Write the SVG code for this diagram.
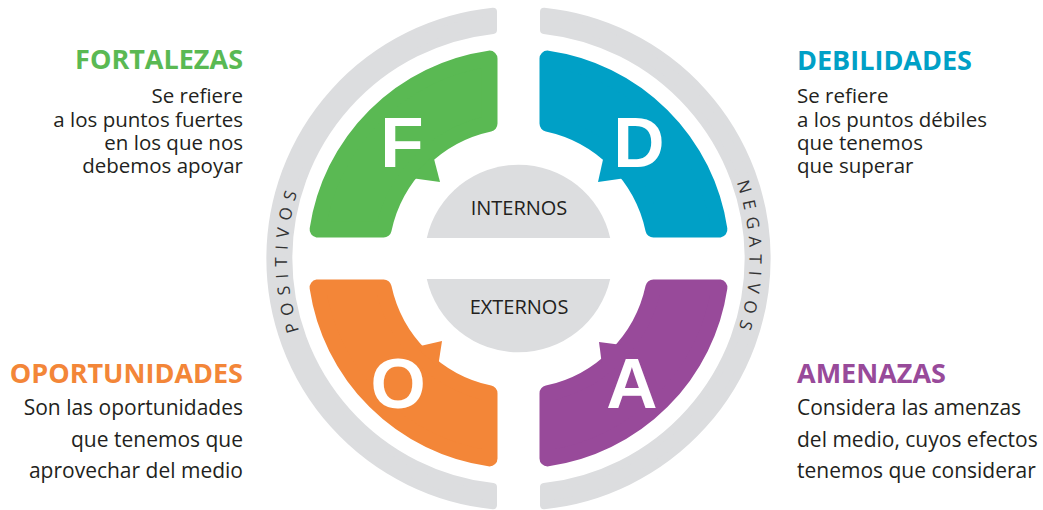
<svg xmlns="http://www.w3.org/2000/svg" width="1043" height="510" viewBox="0 0 1043 510">
  <style>
    .ring { fill: #dcdddf; stroke: #dcdddf; stroke-width: 8; stroke-linejoin: round; }
    .core { fill: #dcdddf; }
    .seg { stroke-width: 16; stroke-linejoin: round; }
    .green { fill: #5ab953; stroke: #5ab953; }
    .blue { fill: #00a0c6; stroke: #00a0c6; }
    .orange { fill: #f38638; stroke: #f38638; }
    .purple { fill: #984a9a; stroke: #984a9a; }
    .tail { stroke: none; }
    .letter { font-family: "Liberation Sans", Arial, sans-serif; font-weight: bold; font-size: 71px; fill: #ffffff; text-anchor: middle; }
    .core-label { font-family: "Open Sans", sans-serif; font-size: 20px; fill: #231f20; text-anchor: middle; }
    .side { font-family: "Open Sans", sans-serif; font-size: 17px; fill: #333333; letter-spacing: 7px; }
    .title { font-family: "Open Sans", sans-serif; font-weight: bold; font-size: 27px; }
    .body { font-family: "Open Sans", sans-serif; font-size: 20.5px; fill: #231f20; }
    .body-lg { font-family: "Open Sans", sans-serif; font-size: 21px; fill: #231f20; }
    .t-green { fill: #5ab953; }
    .t-blue { fill: #00a0c6; }
    .t-orange { fill: #f38638; }
    .t-purple { fill: #984a9a; }
    .end { text-anchor: end; }
  </style>
  <defs>
    <!-- clockwise circle starting at the top, used for the side captions -->
    <path id="sideArc" d="M 518.5,27.5 A 231 231 0 1 1 518.5,489.5 A 231 231 0 1 1 518.5,27.5"/>
  </defs>

  <!-- outer grey half rings -->
  <g id="ring-left">
    <path class="ring" d="M 493,11.8 A 248 248 0 0 0 493,505.2 L 493,487.1 A 230 230 0 0 1 493,29.9 Z"/>
    <text class="side"><textPath href="#sideArc" startOffset="75%" text-anchor="middle">POSITIVOS</textPath></text>
  </g>
  <g id="ring-right">
    <path class="ring" d="M 544,11.8 A 248 248 0 0 1 544,505.2 L 544,487.1 A 230 230 0 0 0 544,29.9 Z"/>
    <text class="side"><textPath href="#sideArc" startOffset="25%" text-anchor="middle">NEGATIVOS</textPath></text>
  </g>

  <!-- centre disc split in two -->
  <g id="internos">
    <path class="core" d="M 426.8,238 A 94 94 0 0 1 610.2,238 Z"/>
    <text class="core-label" x="519" y="215">INTERNOS</text>
  </g>
  <g id="externos">
    <path class="core" d="M 426.8,279 A 94 94 0 0 0 610.2,279 Z"/>
    <text class="core-label" x="519" y="314">EXTERNOS</text>
  </g>

  <!-- quadrant segments -->
  <g id="seg-f">
    <path class="seg green" d="M 489.5,58.6 A 203 203 0 0 0 317.6,229.5 L 383.6,229.5 A 138 138 0 0 1 489.5,123.6 Z"/>
    <polygon class="green tail" points="433,155 411,178 440,182"/>
    <text class="letter" x="402" y="167">F</text>
  </g>
  <g id="seg-d">
    <path class="seg blue" d="M 547.5,58.6 A 203 203 0 0 1 719.4,229.5 L 653.4,229.5 A 138 138 0 0 0 547.5,123.6 Z"/>
    <polygon class="blue tail" points="604,155 626,178 598,182"/>
    <text class="letter" x="639" y="167">D</text>
  </g>
  <g id="seg-o">
    <path class="seg orange" d="M 489.5,458.4 A 203 203 0 0 1 317.6,287.5 L 383.6,287.5 A 138 138 0 0 0 489.5,393.4 Z"/>
    <polygon class="orange tail" points="416,347 438,367 442,341"/>
    <text class="letter" x="398" y="408">O</text>
  </g>
  <g id="seg-a">
    <path class="seg purple" d="M 547.5,458.4 A 203 203 0 0 0 719.4,287.5 L 653.4,287.5 A 138 138 0 0 1 547.5,393.4 Z"/>
    <polygon class="purple tail" points="622,345 602,365 599,342"/>
    <text class="letter" x="632" y="408">A</text>
  </g>

  <!-- descriptions -->
  <g id="txt-fortalezas">
    <text class="title t-green end" x="243" y="69">FORTALEZAS</text>
    <text class="body end" x="243" y="103">Se refiere<tspan x="243" dy="24">a los puntos fuertes</tspan><tspan x="243" dy="23">en los que nos</tspan><tspan x="243" dy="23">debemos apoyar</tspan></text>
  </g>
  <g id="txt-debilidades">
    <text class="title t-blue" x="797" y="70">DEBILIDADES</text>
    <text class="body" x="797" y="103">Se refiere<tspan x="797" dy="24">a los puntos débiles</tspan><tspan x="797" dy="23">que tenemos</tspan><tspan x="797" dy="23">que superar</tspan></text>
  </g>
  <g id="txt-oportunidades">
    <text class="title t-orange end" x="243" y="383">OPORTUNIDADES</text>
    <text class="body-lg end" x="243" y="415">Son las oportunidades<tspan x="243" dy="32">que tenemos que</tspan><tspan x="243" dy="31">aprovechar del medio</tspan></text>
  </g>
  <g id="txt-amenazas">
    <text class="title t-purple" x="797" y="383">AMENAZAS</text>
    <text class="body-lg" x="797" y="415">Considera las amenzas<tspan x="797" dy="32">del medio, cuyos efectos</tspan><tspan x="797" dy="31">tenemos que considerar</tspan></text>
  </g>
</svg>
